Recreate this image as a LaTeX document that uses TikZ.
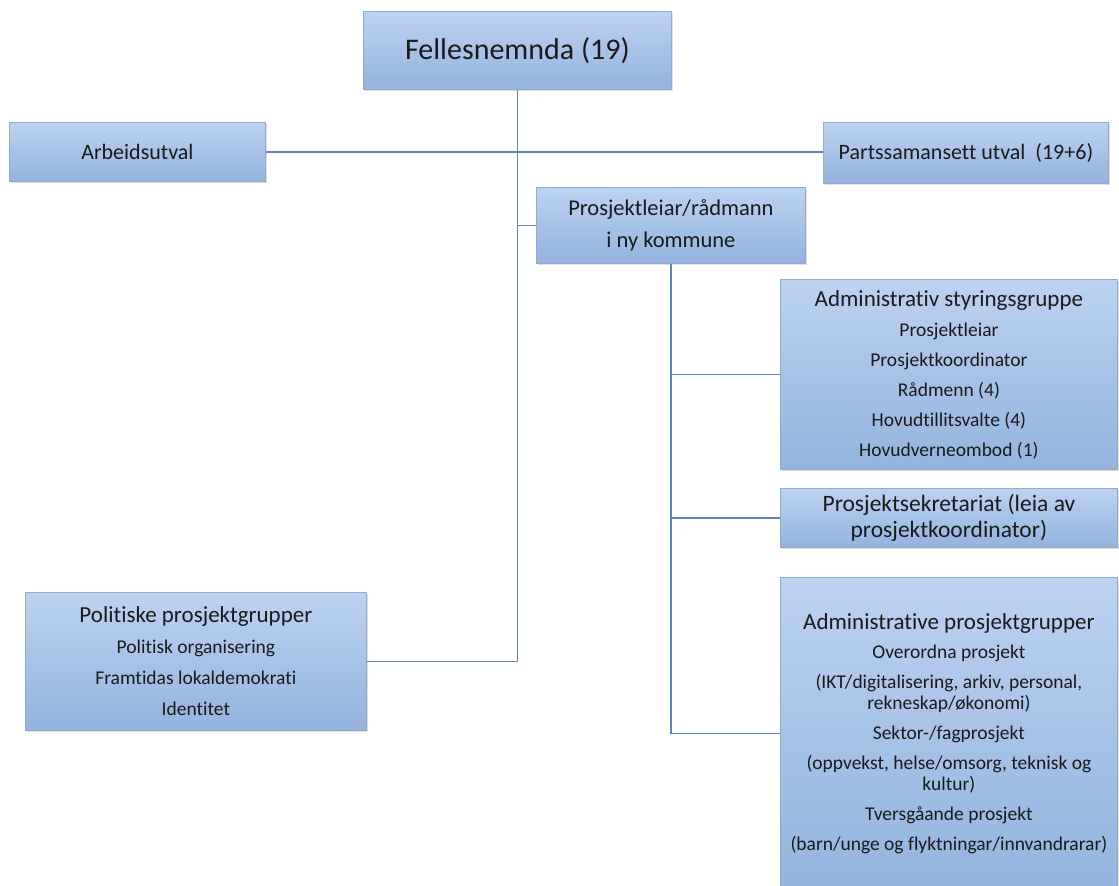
\documentclass[tikz,border=0pt]{standalone}
\usepackage{fontspec}
\setmainfont{Carlito}[Ligatures=NoCommon]
\usetikzlibrary{shadows}
\definecolor{boxtop}{HTML}{BCD2F0}
\definecolor{boxbot}{HTML}{94B3DE}
\definecolor{boxline}{HTML}{94AACB}
\definecolor{linecol}{HTML}{5F86BB}
\definecolor{txt}{HTML}{1A1A1A}
\tikzset{
  box/.style={draw=boxline, line width=0.8pt, top color=boxtop, bottom color=boxbot,
    anchor=north west, inner sep=0pt, align=center, text=txt,
    drop shadow={opacity=0.25, shadow xshift=2pt, shadow yshift=-2pt}},
  conn/.style={draw=linecol, line width=1.3pt}
}
\begin{document}
\begin{tikzpicture}[x=1pt,y=-1pt]
\useasboundingbox[fill=white] (0,0) rectangle (1119,886);
\node[box, minimum width=308pt, minimum height=78pt, font=\fontsize{30}{34}\selectfont] (fn) at (363,11) {Fellesnemnda (19)};
\node[box, minimum width=256pt, minimum height=59pt, font=\fontsize{22}{26}\selectfont] (arb) at (9,122) {Arbeidsutval};
\node[box, minimum width=285pt, minimum height=61pt, font=\fontsize{22}{26}\selectfont] (part) at (823,122) {Partssamansett utval\ \ (19+6)};
\node[box, minimum width=269pt, minimum height=76pt, font=\fontsize{22.5}{32}\selectfont] (pl) at (536,187) {Prosjektleiar/rådmann\\i ny kommune};
\node[box, minimum width=337pt, minimum height=190pt, font=\fontsize{19.5}{30}\selectfont] (styr) at (780,279) {{\fontsize{23}{30}\selectfont Administrativ styringsgruppe}\\Prosjektleiar\\Prosjektkoordinator\\Rådmenn (4)\\Hovudtillitsvalte (4)\\Hovudverneombod (1)};
\node[box, minimum width=337pt, minimum height=59pt, font=\fontsize{23.5}{26}\selectfont] (sek) at (780,488) {Prosjektsekretariat (leia av\\prosjektkoordinator)};
\node[box, minimum width=337pt, minimum height=312pt, font=\fontsize{19.5}{21}\selectfont] (apg) at (780,577) {{\fontsize{23}{26}\selectfont Administrative prosjektgrupper}\\[8pt]Overordna prosjekt\\[9pt](IKT/digitalisering, arkiv, personal,\\rekneskap/økonomi)\\[9pt]Sektor-/fagprosjekt\\[9pt](oppvekst, helse/omsorg, teknisk og\\kultur)\\[9pt]Tversgåande prosjekt\\[9pt](barn/unge og flyktningar/innvandrarar)};
\node[box, minimum width=341pt, minimum height=138pt, font=\fontsize{19.5}{31}\selectfont] (pol) at (25,592) {{\fontsize{23}{31}\selectfont Politiske prosjektgrupper}\\Politisk organisering\\Framtidas lokaldemokrati\\Identitet};
\draw[conn] (fn.south) -- (fn.south |- pol.east) -- (pol.east);
\draw[conn] (arb.east) -- (arb.east -| part.west);
\draw[conn] (fn.south |- pl.west) -- (pl.west);
\draw[conn] (pl.south) -- (pl.south |- apg.west) -- (apg.west);
\draw[conn] (pl.south |- styr.west) -- (styr.west);
\draw[conn] (pl.south |- sek.west) -- (sek.west);
\end{tikzpicture}
\end{document}
